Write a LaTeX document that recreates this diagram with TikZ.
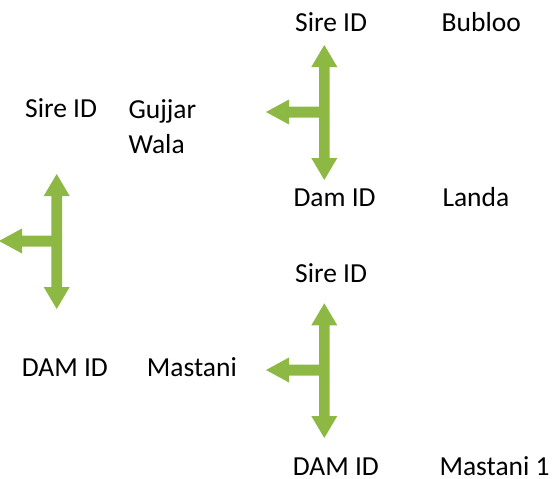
\documentclass[tikz,border=0pt]{standalone}
\usepackage{fontspec}
\setmainfont{Carlito}
\definecolor{arrowgreen}{HTML}{8DB843}
\newcommand\tribranch[5]{% cx, top, bottom, left, cy
  \fill[arrowgreen] (#1,#2) -- ++(13,22) -- ++(-7.7,0) -- (#1+5.3,#3-22) -- ++(7.7,0) -- (#1,#3)
    -- (#1-13,#3-22) -- ++(7.7,0) -- (#1-5.3,#5+5.5) -- (#4+23,#5+5.5) -- ++(0,7) -- (#4,#5)
    -- (#4+23,#5-12.5) -- ++(0,7) -- (#1-5.3,#5-5.5) -- (#1-5.3,#2+22) -- ++(-7.7,0) -- cycle;}
\begin{document}
\begin{tikzpicture}[x=1pt,y=-1pt,
  lbl/.style={anchor=base west,inner sep=0pt,font=\fontsize{27.5}{33}\selectfont}]
\useasboundingbox (0,0) rectangle (557,479);
\tribranch{324.3}{45}{180}{266}{112}
\tribranch{56.7}{174}{309}{-1}{241}
\tribranch{324.3}{303.3}{438}{266}{370}
\node[lbl] (s1) at (295,31) {Sire ID};
\node[lbl] (b1) at (441.5,31) {Bubloo};
\node[lbl] (s0) at (25,117) {Sire ID};
\node[lbl] (g0) at (128.3,118) {Gujjar};
\node[lbl] (w0) at (128.3,153.3) {Wala};
\node[lbl] (d1) at (293.3,206) {Dam ID};
\node[lbl] (l1) at (442.3,206) {Landa};
\node[lbl] (s2) at (295,282.7) {Sire ID};
\node[lbl] (d0) at (21.7,376) {DAM ID};
\node[lbl] (m0) at (146.7,376) {Mastani};
\node[lbl] (d2) at (292.7,475) {DAM ID};
\node[lbl] (m2) at (439.3,475) {Mastani 1};
\end{tikzpicture}
\end{document}
